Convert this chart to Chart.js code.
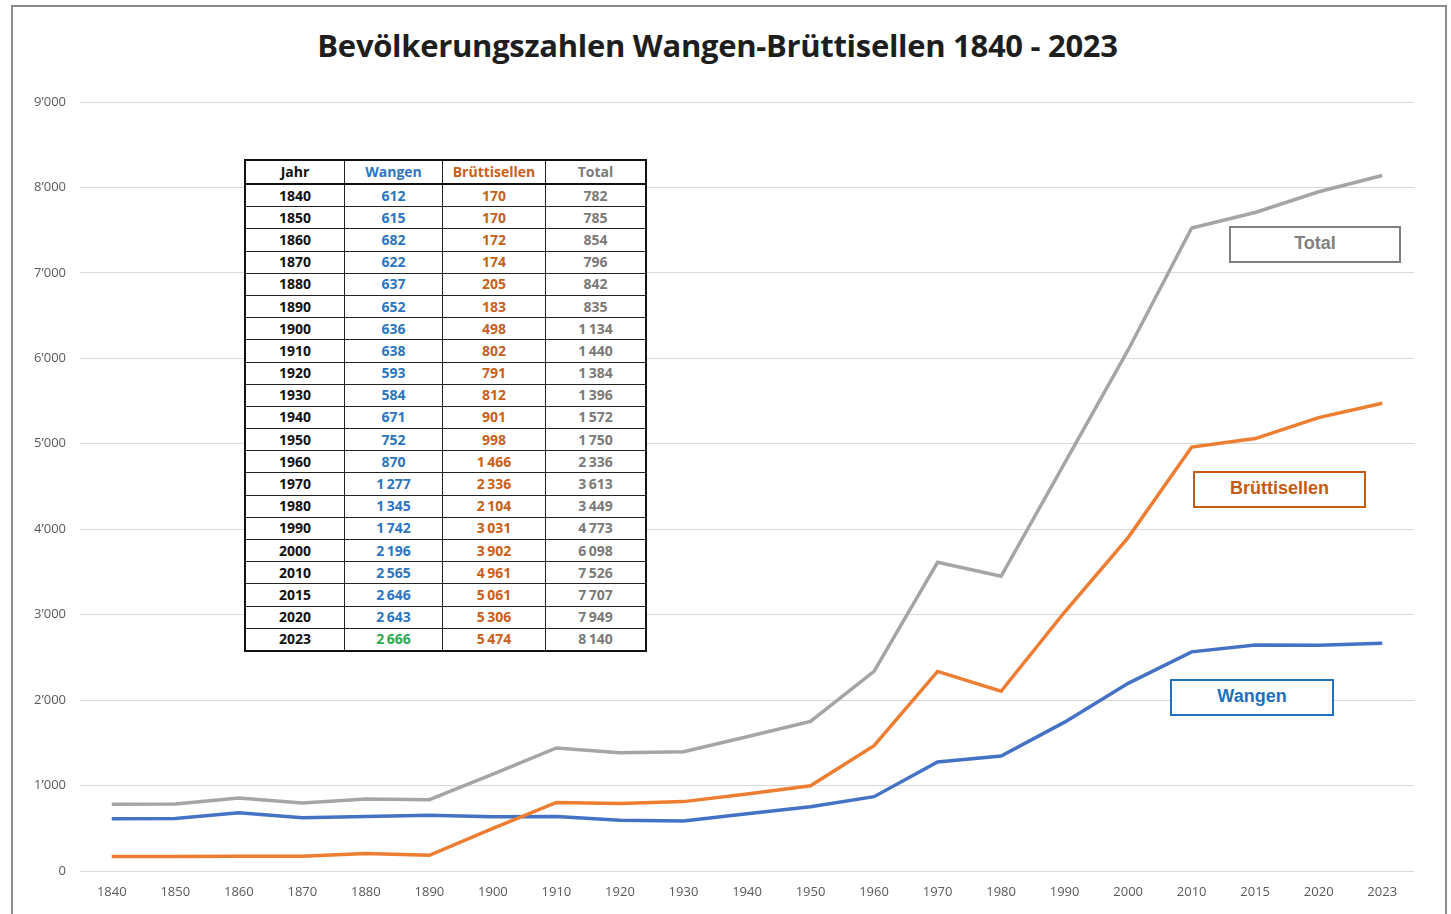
<!DOCTYPE html>
<html>
<head>
<meta charset="utf-8">
<script src="https://cdn.jsdelivr.net/npm/chart.js@4/dist/chart.umd.min.js"></script>
<style>
  body { margin: 0; background: #fff; }
  #wrap { position: relative; width: 1451px; height: 914px; overflow: hidden; }
  #frame { position: absolute; left: 11px; top: 5px; width: 1432px; height: 940px; border: 2px solid #8c8c8c; }
  #title { position: absolute; left: -8px; width: 1451px; top: 24px; text-align: center;
    font: bold 31px "Open Sans", sans-serif; color: #1e1e1e; letter-spacing: -0.3px; }
  canvas { position: absolute; left: 0; top: 0; }
  table { position: absolute; left: 244px; top: 159px; border-collapse: collapse; background: #fff;
    font: bold 14px "Open Sans", sans-serif; }
  table td, table th { border: 1px solid #222; height: 21.2px; padding: 0; text-align: center; line-height: 20px; }
  table th { height: 22px; }
  table { border: 2px solid #111; }
  th { border-bottom: 2px solid #111 !important; }
  .c0 { color: #111; width: 98px; }
  .c1 { color: #2e75c0; width: 97px; }
  .c2 { color: #c8601a; width: 102px; }
  .c3 { color: #7a7a7a; width: 99px; }
  .green { color: #2fa84f; }
  .lbl { position: absolute; border: 2px solid; text-align: center; font: bold 18px "Liberation Sans", Arial, sans-serif;
    box-sizing: border-box; line-height: 31px; background: #fff; }
</style>
</head>
<body>
<div id="wrap">
  <div id="frame"></div>
  <div id="title">Bevölkerungszahlen Wangen-Brüttisellen 1840 - 2023</div>
  <canvas id="chart" width="1451" height="914"></canvas>
  <table id="tbl"></table>
  <div class="lbl" style="left:1229px;top:226px;width:172px;height:37px;border-color:#7f7f7f;color:#7f7f7f;">Total</div>
  <div class="lbl" style="left:1193px;top:471px;width:173px;height:37px;border-color:#c55a11;color:#c55a11;">Brüttisellen</div>
  <div class="lbl" style="left:1170px;top:679px;width:164px;height:37px;border-color:#1f70bf;color:#1f70bf;">Wangen</div>
</div>
<script>
const years = ["1840","1850","1860","1870","1880","1890","1900","1910","1920","1930","1940","1950","1960","1970","1980","1990","2000","2010","2015","2020","2023"];
const wangen = [612,615,682,622,637,652,636,638,593,584,671,752,870,1277,1345,1742,2196,2565,2646,2643,2666];
const bruettisellen = [170,170,172,174,205,183,498,802,791,812,901,998,1466,2336,2104,3031,3902,4961,5061,5306,5474];
const total = [782,785,854,796,842,835,1134,1440,1384,1396,1572,1750,2336,3613,3449,4773,6098,7526,7707,7949,8140];

function fmtTable(v) {
  let s = String(v);
  if (v >= 1000) s = s.slice(0, s.length - 3) + "\u2009" + s.slice(-3);
  return s;
}

// table
let tag = '<tr><th class="c0">Jahr</th><th class="c1">Wangen</th><th class="c2">Brüttisellen</th><th class="c3">Total</th></tr>';
for (let i = 0; i < years.length; i++) {
  let wc = (i == years.length - 1) ? "c1 green" : "c1";
  tag += '<tr><td class="c0">' + years[i] + '</td><td class="' + wc + '">' + fmtTable(wangen[i]) +
    '</td><td class="c2">' + fmtTable(bruettisellen[i]) + '</td><td class="c3">' + fmtTable(total[i]) + '</td></tr>';
}
document.getElementById("tbl").innerHTML = tag;

const tickFont = { family: "'Open Sans', sans-serif", size: 13 };

new Chart(document.getElementById("chart"), {
  type: 'line',
  data: {
    labels: years,
    datasets: [
      { label: "Total", data: total, borderColor: '#a5a5a5', borderWidth: 3.5, pointRadius: 0, tension: 0 },
      { label: "Brüttisellen", data: bruettisellen, borderColor: '#ed7d31', borderWidth: 3.5, pointRadius: 0, tension: 0 },
      { label: "Wangen", data: wangen, borderColor: '#4472c4', borderWidth: 3.5, pointRadius: 0, tension: 0 }
    ]
  },
  options: {
    responsive: false,
    animation: false,
    layout: { padding: { top: 102, left: 0, right: 37, bottom: 0 } },
    plugins: { legend: { display: false }, tooltip: { enabled: false } },
    scales: {
      x: {
        offset: true,
        grid: { display: false },
        border: { display: false },
        ticks: { color: '#595959', font: tickFont, padding: 5, maxRotation: 0 },
        afterFit: function(s) { s.height = 43; }
      },
      y: {
        min: 0, max: 9000,
        grid: { color: '#d9d9d9', lineWidth: 1, drawTicks: false },
        border: { display: false },
        ticks: {
          stepSize: 1000, color: '#595959', font: tickFont, padding: 14,
          callback: function(v) { return v == 0 ? "0" : (v / 1000) + "\u2019000"; }
        },
        afterFit: function(s) { s.width = 80; }
      }
    }
  }
});
</script>
</body>
</html>
